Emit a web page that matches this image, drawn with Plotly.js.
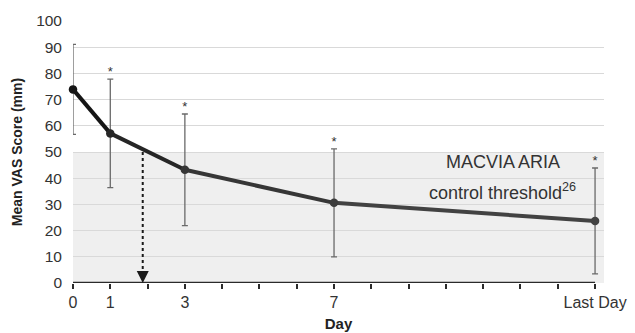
<!DOCTYPE html>
<html>
<head>
<meta charset="utf-8">
<script src="https://cdn.plot.ly/plotly-3.0.1.min.js"></script>
<style>html,body{margin:0;padding:0;background:#fff;}#chart{width:635px;height:333px;}</style>
</head>
<body>
<div id="chart"></div>
<script>
// ---- data ----
const days = [0, 1, 3, 7, 14];
const dayLabels = ['0', '1', '3', '7', 'Last Day'];
const meanVAS = [73.9, 57.1, 43.2, 30.6, 23.7];
const sdVAS = [17.2, 20.7, 21.3, 20.6, 20.2];
const significance = ['', '*', '*', '*', '*'];
const threshold = [50];
const thresholdCrossDay = [1.87];
const tickDays = [0,1,2,3,4,5,6,7,8,9,10,11,12,13,14];

// ---- styling ----
const segColors = ['#151515', '#262626', '#363636', '#424242'];
const font = 'Liberation Sans, Arial, sans-serif';

const traces = [];
for (let i = 0; i < days.length - 1; i++) {
  traces.push({
    x: [days[i], days[i+1]], y: [meanVAS[i], meanVAS[i+1]],
    mode: 'lines', line: {color: segColors[i], width: 4},
    hoverinfo: 'skip', showlegend: false, cliponaxis: false
  });
}
traces.push({
  x: days, y: meanVAS, mode: 'markers',
  marker: {size: 0.1, color: 'rgba(0,0,0,0)'},
  error_y: {type: 'data', array: sdVAS, visible: true, color: '#6a6a6a', thickness: 1.3, width: 3},
  showlegend: false, cliponaxis: false
});
traces.push({
  x: days, y: meanVAS, mode: 'markers',
  marker: {size: 8.5, color: ['#151515', '#262626', '#363636', '#3c3c3c', '#424242']},
  showlegend: false, cliponaxis: false
});
traces.push({
  x: days, y: meanVAS.map((v, i) => v + sdVAS[i]), mode: 'text',
  text: significance, textposition: 'top center',
  textfont: {family: font, size: 13, color: '#333'},
  showlegend: false, cliponaxis: false
});
traces.push({
  x: [thresholdCrossDay[0], thresholdCrossDay[0]], y: [threshold[0], 3],
  mode: 'lines', line: {color: '#1a1a1a', width: 2, dash: 'dot'},
  showlegend: false, hoverinfo: 'skip'
});

const layout = {
  width: 635, height: 333,
  margin: {l: 73, r: 31, t: 21, b: 50},
  paper_bgcolor: '#fff', plot_bgcolor: '#fff',
  font: {family: font, color: '#333'},
  xaxis: {
    range: [0, 14.24], tickvals: tickDays,
    ticktext: tickDays.map(d => { const k = days.indexOf(d); return k >= 0 ? dayLabels[k] : ''; }),
    ticks: 'outside', ticklen: 5, tickwidth: 2, tickcolor: '#2a2a2a',
    showgrid: false, zeroline: false, showline: false,
    tickfont: {family: font, size: 16, color: '#333'},
    title: {text: '<b>Day</b>', font: {family: font, size: 15, color: '#222'}, standoff: 8}
  },
  yaxis: {
    range: [0, 100], dtick: 10, tick0: 0,
    showgrid: true, gridcolor: '#d9d9d9', gridwidth: 1,
    zeroline: false, showline: false, ticks: '',
    ticklabelstandoff: 10,
    tickfont: {family: font, size: 15.5, color: '#333'},
    title: {text: '<b>Mean VAS Score (mm)</b>', font: {family: font, size: 14, color: '#222'}, standoff: 10}
  },
  shapes: [
    {type: 'rect', xref: 'paper', x0: 0, x1: 1, yref: 'y', y0: 0, y1: threshold[0],
     fillcolor: '#efefef', line: {width: 0}, layer: 'below'},
    {type: 'line', xref: 'x', x0: days[0], x1: days[days.length-1], yref: 'y', y0: 0, y1: 0,
     line: {color: '#2a2a2a', width: 2.5}, layer: 'above'}
  ],
  annotations: [
    {x: 11.53, y: 46, xref: 'x', yref: 'y', text: 'MACVIA ARIA', showarrow: false,
     font: {family: font, size: 18, color: '#333'}},
    {x: 11.52, y: 35, xref: 'x', yref: 'y', text: 'control threshold<sup>26</sup>', showarrow: false,
     font: {family: font, size: 18, color: '#333'}},
    {x: thresholdCrossDay[0], y: 0, xref: 'x', yref: 'y', ax: 0, ay: -12, text: '',
     showarrow: true, arrowhead: 2, arrowsize: 1.2, arrowwidth: 2, arrowcolor: '#1a1a1a', standoff: 0}
  ]
};

Plotly.newPlot('chart', traces, layout, {displayModeBar: false, staticPlot: true});
</script>
</body>
</html>
